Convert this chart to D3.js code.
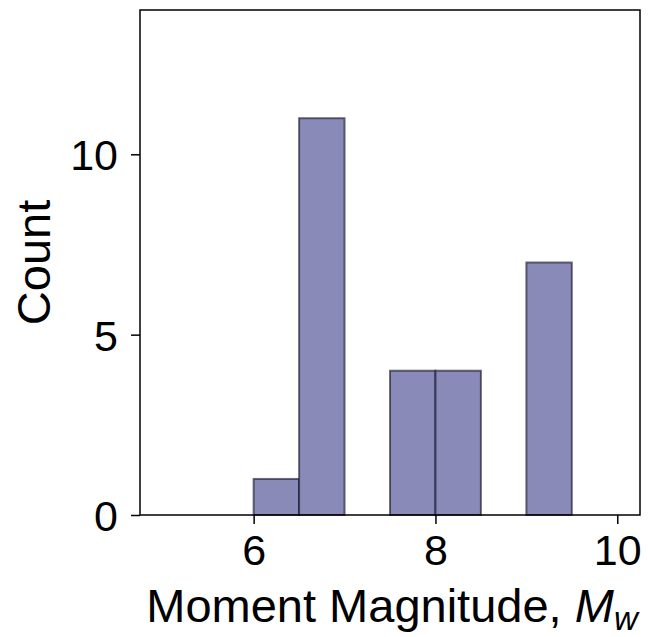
<!DOCTYPE html>
<html>
<head>
<meta charset="utf-8">
<script src="https://cdn.jsdelivr.net/npm/d3@7"></script>
<style>
  body { margin: 0; background: #fff; }
  text { font-family: "Liberation Sans", Arial, sans-serif; fill: #000; }
</style>
</head>
<body>
<div id="chart"></div>
<script>
// histogram bins (left edge) and counts
const binStarts = [6.0, 6.5, 7.5, 8.0, 9.0];
const binCounts = [1, 11, 4, 4, 7];
const binWidth = 0.5;
const xTicks = [6, 8, 10];
const yTicks = [0, 5, 10];

const width = 648, height = 637;
const margin = { top: 10, right: 8, bottom: 122, left: 140 };
const innerW = width - margin.left - margin.right;
const innerH = height - margin.top - margin.bottom;

const svg = d3.select("#chart").append("svg")
    .attr("width", width)
    .attr("height", height);

const g = svg.append("g")
    .attr("transform", `translate(${margin.left},${margin.top})`);

const x = d3.scaleLinear().domain([4.75, 10.25]).range([0, innerW]);
const y = d3.scaleLinear().domain([0, 14]).range([innerH, 0]);

// bars
g.selectAll("rect.bar")
    .data(binStarts.map((s, i) => ({ start: s, count: binCounts[i] })))
    .join("rect")
    .attr("class", "bar")
    .attr("x", d => x(d.start))
    .attr("y", d => y(d.count))
    .attr("width", d => x(d.start + binWidth) - x(d.start))
    .attr("height", d => y(0) - y(d.count))
    .attr("fill", "#8a8ab8")
    .attr("stroke", "#10102a")
    .attr("stroke-opacity", 0.6)
    .attr("stroke-width", 2);

// axes
const fontSize = 43;
const xAxis = g.append("g")
    .attr("transform", `translate(0,${innerH})`)
    .call(d3.axisBottom(x).tickValues(xTicks).tickSize(9).tickPadding(10).tickFormat(d3.format("d")));
const yAxis = g.append("g")
    .call(d3.axisLeft(y).tickValues(yTicks).tickSize(9).tickPadding(13).tickFormat(d3.format("d")));

[xAxis, yAxis].forEach(a => {
    a.select(".domain").remove();
    a.selectAll(".tick line").attr("stroke", "#000").attr("stroke-width", 1.5);
    a.selectAll(".tick text")
        .style("font-size", fontSize + "px")
        .style("font-family", '"Liberation Sans", Arial, sans-serif')
        .attr("fill", "#000");
});
yAxis.selectAll(".tick text").attr("dy", "0.36em");

// frame
g.append("rect")
    .attr("width", innerW)
    .attr("height", innerH)
    .attr("fill", "none")
    .attr("stroke", "#000")
    .attr("stroke-width", 1.5);

// axis labels
const xl = svg.append("text")
    .attr("x", margin.left + innerW / 2 + 2)
    .attr("y", 622)
    .attr("text-anchor", "middle")
    .style("font-size", "47px");
xl.append("tspan").text("Moment Magnitude, ");
xl.append("tspan").attr("font-style", "italic").text("M");
xl.append("tspan").attr("font-style", "italic").attr("font-size", "33px").attr("dy", 8).text("w");

svg.append("text")
    .attr("transform", `translate(50,${margin.top + innerH / 2}) rotate(-90)`)
    .attr("text-anchor", "middle")
    .style("font-size", "47px")
    .text("Count");
</script>
</body>
</html>
